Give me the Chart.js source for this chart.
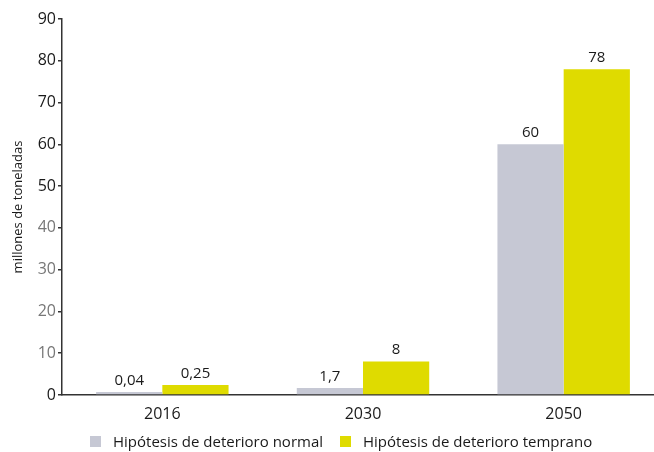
<!DOCTYPE html>
<html><head><meta charset="utf-8">
<script src="https://cdn.jsdelivr.net/npm/chart.js@4"></script>
<style>
html,body{margin:0;padding:0;background:#fff;overflow:hidden}
#wrap{position:relative;width:654px;height:452px;overflow:hidden}
#box{width:664px;height:452px}
.lg{position:absolute;top:429px;font:15px 'Open Sans',sans-serif;color:#1a1a1a;white-space:nowrap;line-height:24px}
.lg i{position:absolute;left:0;top:7px;width:11px;height:11px}
.lg span{position:absolute;left:23px}
</style>
</head><body><div id="wrap"><div id="box"><canvas id="c"></canvas></div>
<div class="lg" style="left:90px"><i id="lg0"></i><span id="lt0"></span></div>
<div class="lg" style="left:340px"><i id="lg1"></i><span id="lt1"></span></div>
</div>
<script>
// === data ===
const years = ["2016", "2030", "2050"];
const normal = [0.04, 1.7, 60];
const early = [0.25, 8, 78];
const normalLabels = ["0,04", "1,7", "60"];
const earlyLabels = ["0,25", "8", "78"];
const seriesNames = ["Hipótesis de deterioro normal", "Hipótesis de deterioro temprano"];
const colors = ["#c6c8d4", "#dfdb00"];

const FONT = "'Open Sans', sans-serif";

// legend (html)
seriesNames.forEach((n, i)=>{
  document.getElementById("lg"+i).style.background = colors[i];
  document.getElementById("lt"+i).textContent = n;
});

// value labels above bars
const barLabels = {
  id: "barLabels",
  afterDatasetsDraw(chart){
    const ctx = chart.ctx;
    const txt = [normalLabels, earlyLabels];
    ctx.save();
    ctx.font = "15px " + FONT;
    ctx.fillStyle = "#1a1a1a";
    ctx.textAlign = "center";
    ctx.textBaseline = "bottom";
    chart.data.datasets.forEach((ds, i)=>{
      chart.getDatasetMeta(i).data.forEach((bar, j)=>{
        ctx.fillText(txt[i][j], bar.x, bar.y - 4);
      });
    });
    ctx.restore();
  }
};

new Chart(document.getElementById("c"), {
  type: "bar",
  data: {
    labels: years,
    datasets: [
      {label: seriesNames[0], data: normal, backgroundColor: colors[0], minBarLength: 3,
       barPercentage: 1, categoryPercentage: 0.66},
      {label: seriesNames[1], data: early, backgroundColor: colors[1], minBarLength: 10,
       barPercentage: 1, categoryPercentage: 0.66}
    ]
  },
  options: {
    responsive: true, maintainAspectRatio: false, animation: false,
    layout: {padding: {top: 19, right: 0, left: 0, bottom: 0}},
    plugins: {tooltip: {enabled: false}, legend: {display: false}},
    scales: {
      x: {
        afterFit: s => { s.height = 57; },
        grid: {display: false},
        border: {color: "#333", width: 1.5},
        ticks: {color: "#1a1a1a", font: {family: FONT, size: 16}, padding: 2}
      },
      y: {
        min: 0, max: 90,
        afterFit: s => { s.width = 62; },
        grid: {drawOnChartArea: false, drawTicks: true, tickLength: 4, color: "#333", lineWidth: 1.5},
        border: {color: "#333", width: 1.5},
        ticks: {stepSize: 10, padding: 2, font: {family: FONT, size: 16},
                color: c => (c.tick.value >= 10 && c.tick.value <= 40) ? "#777" : "#1a1a1a"},
        title: {display: true, text: "millones de toneladas", color: "#1a1a1a",
                font: {family: FONT, size: 13}, padding: {top: 10, bottom: 0}}
      }
    }
  },
  plugins: [barLabels]
});
</script></body></html>
